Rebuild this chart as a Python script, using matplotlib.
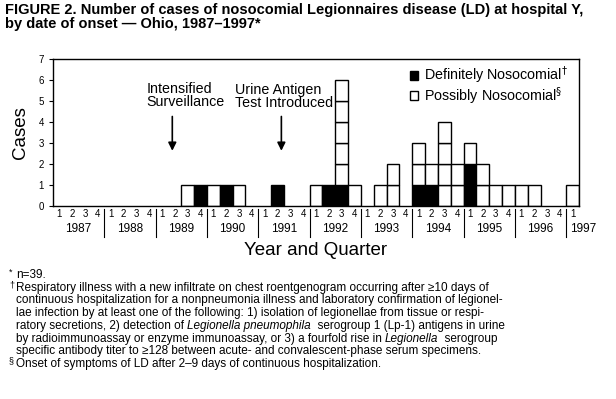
import matplotlib
matplotlib.use("Agg")
import matplotlib.pyplot as plt
from matplotlib.patches import Patch
import numpy as np

plt.rcParams['font.family'] = ['Liberation Sans', 'DejaVu Sans']

# data, one entry per quarter from 1987 Q1 to 1997 Q1
years = [1987, 1988, 1989, 1990, 1991, 1992, 1993, 1994, 1995, 1996, 1997]
definite = [0, 0, 0, 0,  0, 0, 0, 0,  0, 0, 0, 1,  0, 1, 0, 0,  0, 1, 0, 0,
            0, 1, 1, 0,  0, 0, 0, 0,  1, 1, 0, 0,  2, 0, 0, 0,  0, 0, 0, 0,  0]
possible = [0, 0, 0, 0,  0, 0, 0, 0,  0, 0, 1, 0,  1, 0, 1, 0,  0, 0, 0, 0,
            1, 0, 5, 1,  0, 1, 2, 0,  2, 1, 4, 2,  1, 2, 1, 1,  1, 1, 0, 0,  1]
quarter_labels = ["1", "2", "3", "4"] * 10 + ["1"]

definite = np.array(definite)
possible = np.array(possible)
n_q = len(definite)
xpos = np.arange(n_q) + 0.5

fig = plt.figure(figsize=(6.16, 3.99), dpi=100)
ax = fig.add_axes([0.086, 0.4837, 0.854, 0.368])

# each case is drawn as its own unit box
for i in range(n_q):
    level = 0
    for _ in range(definite[i]):
        ax.bar(xpos[i], 1, bottom=level, width=1.0, color="black", edgecolor="black", linewidth=1)
        level += 1
    for _ in range(possible[i]):
        ax.bar(xpos[i], 1, bottom=level, width=1.0, color="white", edgecolor="black", linewidth=1)
        level += 1

ax.set_xlim(0, n_q)
ax.set_ylim(0, 7)
ax.set_yticks(range(0, 8))
ax.tick_params(axis="y", labelsize=7, length=3, width=0.8)
ax.set_xticks(xpos)
ax.set_xticklabels(quarter_labels, fontsize=7)
ax.tick_params(axis="x", length=0, pad=2)
for s in ax.spines.values():
    s.set_linewidth(1)

# year separators and year labels below the axis
trans = ax.get_xaxis_transform()
for k in range(1, len(years)):
    ax.plot([4 * k, 4 * k], [-0.02, -0.21], color="black", lw=0.8, transform=trans, clip_on=False)
for k, yr in enumerate(years):
    if yr == 1997:
        ax.text(4 * k + 0.3, -0.155, str(yr), transform=trans, ha="left", va="center", fontsize=8.5)
    else:
        ax.text(4 * k + 2, -0.155, str(yr), transform=trans, ha="center", va="center", fontsize=8.5)

ax.text(0.5, -0.30, "Year and Quarter", transform=ax.transAxes, ha="center", va="center", fontsize=13.5)
ax.set_ylabel("Cases", fontsize=13.5, labelpad=7)

# event annotations
ax.annotate("", xy=(9.3, 2.5), xytext=(9.3, 4.4),
            arrowprops=dict(arrowstyle="-|>", color="black", lw=1.2, mutation_scale=12))
ax.text(7.3, 5.25, "Intensified\nSurveillance", ha="left", va="center", fontsize=10.3, linespacing=0.9)
ax.annotate("", xy=(17.8, 2.5), xytext=(17.8, 4.4),
            arrowprops=dict(arrowstyle="-|>", color="black", lw=1.2, mutation_scale=12))
ax.text(14.2, 5.2, "Urine Antigen\nTest Introduced", ha="left", va="center", fontsize=10.3, linespacing=0.9)

# legend
handles = [Patch(facecolor="black", edgecolor="black", label="Definitely Nosocomial$^{\u2020}$"),
           Patch(facecolor="white", edgecolor="black", label="Possibly Nosocomial$^{\u00a7}$")]
ax.legend(handles=handles, loc="upper right", frameon=False, fontsize=10.3,
          handlelength=0.6, handleheight=0.6, handletextpad=0.4, labelspacing=-0.1,
          borderaxespad=0.0, bbox_to_anchor=(0.99, 1.0))

# title
fig.text(0.008, 0.993, "FIGURE 2. Number of cases of nosocomial Legionnaires disease (LD) at hospital Y,\n"
         "by date of onset \u2014 Ohio, 1987\u20131997*", ha="left", va="top", fontsize=10.5,
         fontweight="bold", linespacing=1.0)

# footnotes, italic words drawn as separate pieces
fs = 8.5
renderer = fig.canvas.get_renderer()


def put_line(x_px, y_px, pieces, size=fs):
    x = x_px
    for txt, style in pieces:
        t = fig.text(x / 616, 1 - y_px / 399, txt, ha="left", va="center", fontsize=size, style=style)
        bb = t.get_window_extent(renderer=renderer)
        x += bb.width


put_line(9, 272, [("*", "normal")], size=6.5)
put_line(16, 275, [("n=39.", "normal")])
put_line(9, 285, [("\u2020", "normal")], size=6.5)
lines = [
    (16, 288, [("Respiratory illness with a new infiltrate on chest roentgenogram occurring after \u226510 days of", "normal")]),
    (16, 300, [("continuous hospitalization for a nonpneumonia illness and laboratory confirmation of legionel-", "normal")]),
    (16, 313, [("lae infection by at least one of the following: 1) isolation of legionellae from tissue or respi-", "normal")]),
    (16, 326, [("ratory secretions, 2) detection of ", "normal"), ("Legionella pneumophila", "italic"),
               ("  serogroup 1 (Lp-1) antigens in urine", "normal")]),
    (16, 339, [("by radioimmunoassay or enzyme immunoassay, or 3) a fourfold rise in ", "normal"),
               ("Legionella", "italic"), ("  serogroup", "normal")]),
    (16, 351, [("specific antibody titer to \u2265128 between acute- and convalescent-phase serum specimens.", "normal")]),
]
for xp, yp, pieces in lines:
    put_line(xp, yp, pieces)
put_line(9, 361, [("\u00a7", "normal")], size=6.5)
put_line(16, 364, [("Onset of symptoms of LD after 2\u20139 days of continuous hospitalization.", "normal")])

fig.savefig("out.png", dpi=100)
